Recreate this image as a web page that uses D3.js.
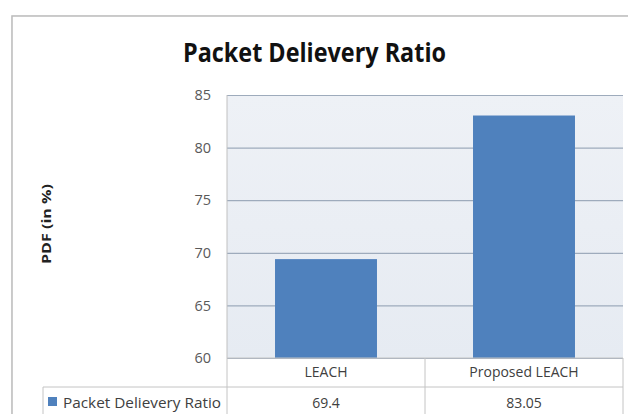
<!DOCTYPE html>
<html>
<head>
<meta charset="utf-8">
<script src="https://cdn.jsdelivr.net/npm/d3@7/dist/d3.min.js"></script>
<style>
  html, body { margin: 0; padding: 0; background: #ffffff; }
  svg { display: block; }
  text { font-family: "Open Sans", "DejaVu Sans", sans-serif; }
</style>
</head>
<body>
<svg id="chart" width="628" height="414"></svg>
<script>
// ---- data ----
const categories = ["LEACH", "Proposed LEACH"];
const seriesName = "Packet Delievery Ratio";
const values = [69.4, 83.05];
const valueLabels = ["69.4", "83.05"];
const yTicks = [60, 65, 70, 75, 80, 85];
const chartTitle = "Packet Delievery Ratio";
const yAxisTitle = "PDF (in %)";

// ---- layout ----
const W = 628, H = 414;
const plot = { left: 227, right: 623, top: 95, bottom: 358 };
const tableRow1Bottom = 387;
const tableBottom = 420;
const legendLeft = 43;

const svg = d3.select("#chart");

const defs = svg.append("defs");
const grad = defs.append("linearGradient").attr("id", "plotBg")
  .attr("x1", 0).attr("y1", 0).attr("x2", 0).attr("y2", 1);
grad.append("stop").attr("offset", "0%").attr("stop-color", "#eef1f6");
grad.append("stop").attr("offset", "100%").attr("stop-color", "#e6ebf2");

svg.append("rect").attr("x", 0).attr("y", 0).attr("width", W).attr("height", H).attr("fill", "#ffffff");
svg.append("rect").attr("x", 13).attr("y", 17).attr("width", 640).attr("height", 430)
  .attr("fill", "none").attr("stroke", "#e6e6e6").attr("stroke-width", 3);
svg.append("rect").attr("x", 12).attr("y", 16).attr("width", 640).attr("height", 430)
  .attr("fill", "#ffffff").attr("stroke", "#bcbcbc").attr("stroke-width", 1.5);

// scales
const x = d3.scaleBand().domain(categories).range([plot.left, plot.right]).paddingInner(0).paddingOuter(0);
const y = d3.scaleLinear().domain([60, 85]).range([plot.bottom, plot.top]);
const barFrac = 0.515;

// plot background
svg.append("rect").attr("x", plot.left).attr("y", plot.top)
  .attr("width", plot.right - plot.left).attr("height", plot.bottom - plot.top)
  .attr("fill", "url(#plotBg)");

// gridlines via axis
const grid = svg.append("g").attr("transform", `translate(${plot.left},0)`)
  .call(d3.axisLeft(y).tickValues(yTicks).tickSize(-(plot.right - plot.left)).tickFormat(""));
grid.select(".domain").remove();
grid.selectAll(".tick line").attr("stroke", "#9eabbc").attr("stroke-width", 1.2);

// y labels
const yAx = svg.append("g").attr("transform", `translate(${plot.left},0)`)
  .call(d3.axisLeft(y).tickValues(yTicks).tickSize(0).tickPadding(16).tickFormat(d3.format("d")));
yAx.select(".domain").remove();
yAx.selectAll("text").attr("font-size", 14.5).attr("fill", "#595959")
  .attr("font-family", "'Open Sans', sans-serif");

// plot left border
svg.append("line").attr("x1", plot.left).attr("x2", plot.left).attr("y1", plot.top).attr("y2", plot.bottom)
  .attr("stroke", "#c0c0c0").attr("stroke-width", 1);

// bars
svg.append("g").selectAll("rect").data(values).join("rect")
  .attr("x", (d, i) => x(categories[i]) + x.bandwidth() * (1 - barFrac) / 2)
  .attr("width", x.bandwidth() * barFrac)
  .attr("y", d => y(d))
  .attr("height", d => y(60) - y(d))
  .attr("fill", "#4f81bd");

// data table
const tbl = svg.append("g");
const lineColor = "#c4c4c4";
tbl.append("line").attr("x1", plot.left).attr("x2", plot.right).attr("y1", plot.bottom).attr("y2", plot.bottom)
  .attr("stroke", lineColor);
tbl.append("line").attr("x1", legendLeft).attr("x2", plot.right).attr("y1", tableRow1Bottom).attr("y2", tableRow1Bottom)
  .attr("stroke", lineColor);
tbl.append("line").attr("x1", legendLeft).attr("x2", legendLeft).attr("y1", tableRow1Bottom).attr("y2", tableBottom)
  .attr("stroke", lineColor);
const vx = [plot.left].concat(categories.map(c => x(c) + x.bandwidth()));
tbl.selectAll("line.v").data(vx).join("line").attr("class", "v")
  .attr("x1", d => d).attr("x2", d => d).attr("y1", plot.bottom).attr("y2", tableBottom)
  .attr("stroke", lineColor);

// category labels
tbl.selectAll("text.cat").data(categories).join("text").attr("class", "cat")
  .attr("x", d => x(d) + x.bandwidth() / 2).attr("y", 377)
  .attr("text-anchor", "middle").attr("font-size", 14).attr("fill", "#404040")
  .text(d => d);

// values
tbl.selectAll("text.val").data(valueLabels).join("text").attr("class", "val")
  .attr("x", (d, i) => x(categories[i]) + x.bandwidth() / 2).attr("y", 408)
  .attr("text-anchor", "middle").attr("font-size", 14).attr("fill", "#404040")
  .text(d => d);

// legend key
tbl.append("rect").attr("x", 48).attr("y", 397).attr("width", 9).attr("height", 9).attr("fill", "#4f81bd");
tbl.append("text").attr("x", 63).attr("y", 408).attr("font-size", 14).attr("fill", "#404040")
  .attr("textLength", 158).attr("lengthAdjust", "spacingAndGlyphs")
  .text(seriesName);

// title
svg.append("text").attr("x", 183).attr("y", 62)
  .attr("font-size", 27).attr("font-weight", "bold").attr("fill", "#111111")
  .attr("textLength", 263).attr("lengthAdjust", "spacingAndGlyphs")
  .text(chartTitle);

// y axis title
svg.append("text").attr("transform", "translate(51,224) rotate(-90)")
  .attr("text-anchor", "middle").attr("font-size", 13).attr("font-weight", "bold").attr("fill", "#222222")
  .attr("textLength", 80).attr("lengthAdjust", "spacingAndGlyphs")
  .text(yAxisTitle);
</script>
</body>
</html>
